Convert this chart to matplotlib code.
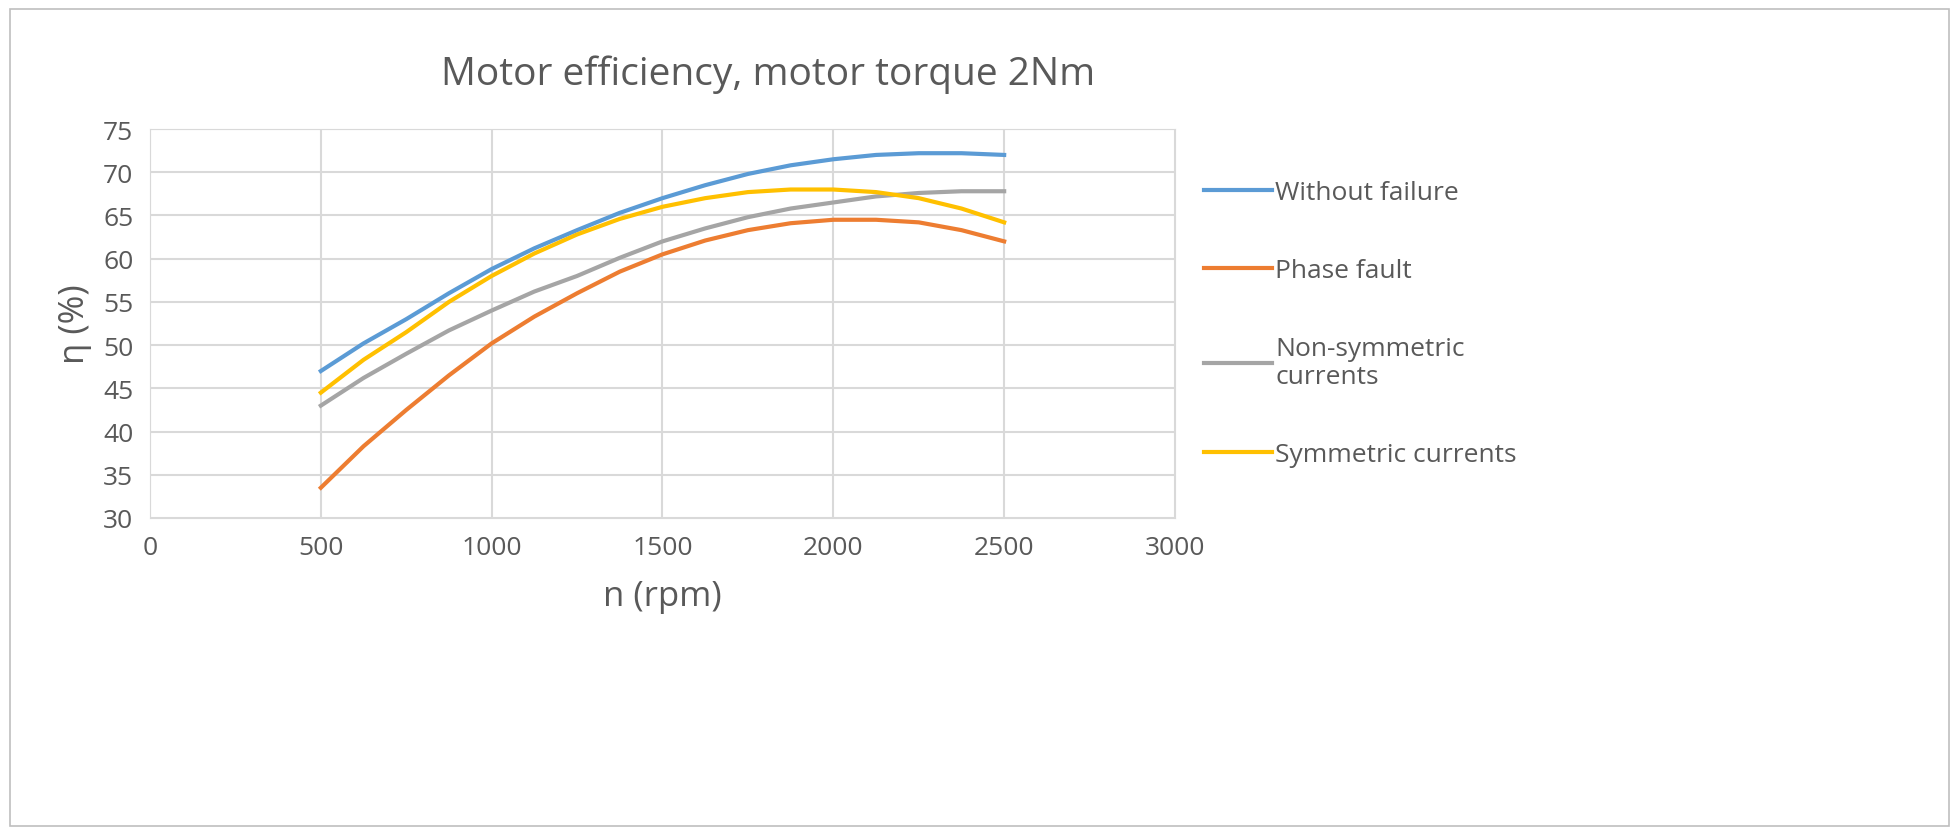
import matplotlib
matplotlib.use("Agg")
import matplotlib.pyplot as plt
from matplotlib.patches import Rectangle

speed = [500, 625, 750, 875, 1000, 1125, 1250, 1375, 1500, 1625, 1750, 1875, 2000, 2125, 2250, 2375, 2500]
without_failure = [47, 50.2, 53, 56, 58.8, 61.2, 63.3, 65.3, 67, 68.5, 69.8, 70.8, 71.5, 72, 72.2, 72.2, 72]
phase_fault = [33.5, 38.3, 42.5, 46.5, 50.2, 53.3, 56, 58.5, 60.5, 62.1, 63.3, 64.1, 64.5, 64.5, 64.2, 63.3, 62]
non_symmetric = [43, 46.2, 49, 51.7, 54, 56.2, 58, 60.1, 62, 63.5, 64.8, 65.8, 66.5, 67.2, 67.6, 67.8, 67.8]
symmetric = [44.5, 48.3, 51.5, 55, 58, 60.6, 62.8, 64.6, 66, 67, 67.7, 68, 68, 67.7, 67, 65.8, 64.2]
labels = ["Without failure", "Phase fault", "Non-symmetric\ncurrents", "Symmetric currents"]
colors = ["#5B9BD5", "#ED7D31", "#A5A5A5", "#FFC000"]

plt.rcParams['font.family'] = ['Open Sans', 'DejaVu Sans']
W, H = 1959, 837
fig = plt.figure(figsize=(W/100, H/100), dpi=100)
fig.patches.append(Rectangle((10/W, 10/H), 1-20/W, 1-20/H, transform=fig.transFigure,
                             fill=False, edgecolor="#BFBFBF", lw=1.2))
ax = fig.add_axes([150/W, 1-519/H, (1175-150)/W, (519-130)/H])
series = [without_failure, phase_fault, non_symmetric, symmetric]
for s, c, l in zip(series, colors, labels):
    ax.plot(speed, s, color=c, lw=3, label=l)
ax.set_xlim(0, 3000)
ax.set_ylim(30, 75)
ax.set_xticks(range(0, 3001, 500))
ax.set_yticks(range(30, 76, 5))
ax.grid(True, color="#D9D9D9", lw=1.5)
for sp in ax.spines.values():
    sp.set_color("#D9D9D9")
ax.tick_params(length=0, labelsize=19, colors="#595959", pad=12)
ax.set_xlabel("n (rpm)", fontsize=25, color="#595959", labelpad=14)
ax.set_ylabel("η (%)", fontsize=25, color="#595959", labelpad=8)
fig.text(768/W, 1-75/H, "Motor efficiency, motor torque 2Nm", fontsize=28,
         color="#595959", ha="center", va="center")
leg = ax.legend(loc="upper left", bbox_to_anchor=(1.005, 0.93), frameon=False,
                fontsize=19, labelcolor="#595959", handlelength=2.6,
                handletextpad=0.1, labelspacing=2.0)
fig.savefig("out.png", dpi=100)
